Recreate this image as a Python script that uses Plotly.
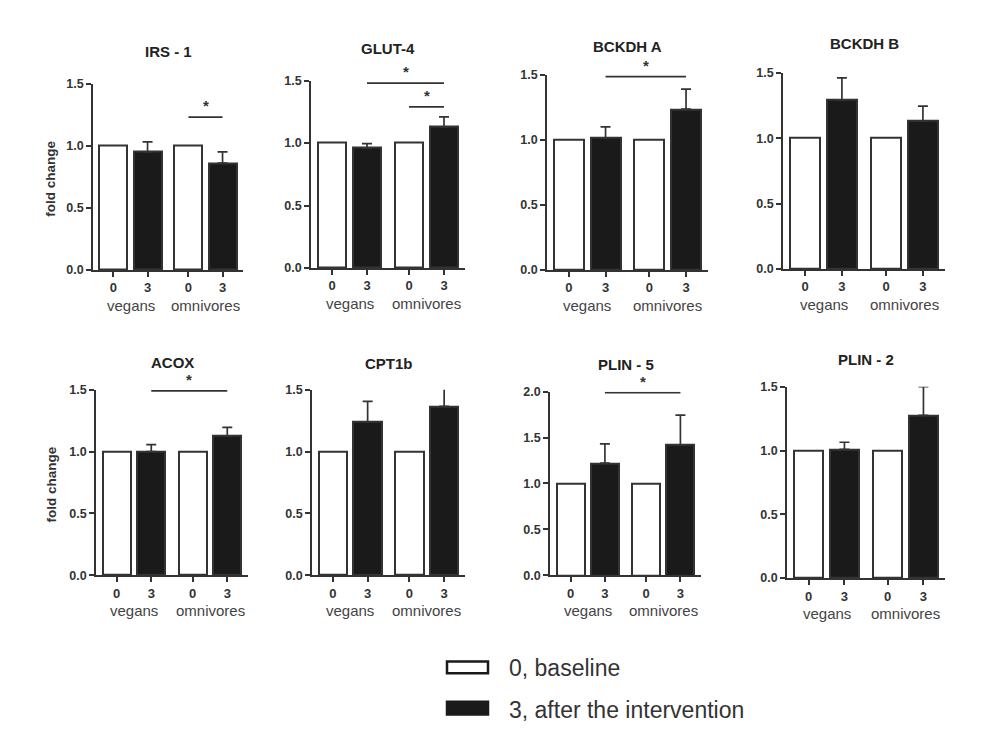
import plotly.graph_objects as go

W, H = 1002, 747

# ---------------- data ----------------
genes = ["IRS - 1", "GLUT-4", "BCKDH A", "BCKDH B", "ACOX", "CPT1b", "PLIN - 5", "PLIN - 2"]
bar_x = [0, 1, 2.2, 3.2]                 # vegans 0, vegans 3, omnivores 0, omnivores 3
tick_labels = ["0", "3", "0", "3"]
group_labels = ["vegans", "omnivores"]
group_x = [0.5, 2.7]

baseline = [1.0, 1.0, 1.0, 1.0, 1.0, 1.0, 1.0, 1.0]          # fold change at 0 (both groups)
vegans_3 = [0.95, 0.96, 1.015, 1.29, 1.00, 1.24, 1.22, 1.01]
vegans_3_sem = [0.08, 0.035, 0.085, 0.17, 0.055, 0.165, 0.21, 0.055]
omniv_3 = [0.86, 1.13, 1.235, 1.13, 1.125, 1.365, 1.42, 1.275]
omniv_3_sem = [0.09, 0.08, 0.155, 0.115, 0.07, 0.17, 0.325, 0.225]
y_max = [1.5, 1.5, 1.5, 1.5, 1.5, 1.5, 2.0, 1.5]

# significance brackets: (panel index, from bar, to bar, height)
sig_panel = [0, 1, 1, 2, 4, 6]
sig_from = [2, 1, 2, 1, 1, 1]
sig_to = [3, 3, 3, 3, 3, 3]
sig_y = [1.23, 1.48, 1.29, 1.486, 1.49, 1.99]

legend_labels = ["0, baseline", "3, after the intervention"]

# ---------------- layout geometry (pixels) ----------------
# left, right, top, bottom of each plot area
boxes = [
    (93, 243, 78, 268), (311, 465, 75, 266), (547, 708, 69, 268), (783, 945, 67, 267),
    (96, 248, 390, 579), (312, 465, 390, 579), (550, 701, 392, 579), (787, 945, 387, 582),
]
title_y = [45, 42, 40, 37, 362, 363, 364, 359]

FONT = "Arial, Liberation Sans, Helvetica, sans-serif"
TXT = "#333333"
LINE = "#333333"
BLACK = "#1a1a1a"

fig = go.Figure()
annotations = []
shapes = []

for i, g in enumerate(genes):
    l, r, t, b = boxes[i]
    ax = "" if i == 0 else str(i + 1)
    xa = "x" + ax
    ya = "y" + ax
    fig.add_trace(go.Bar(
        x=[bar_x[0], bar_x[2]], y=[baseline[i], baseline[i]], width=0.82,
        marker=dict(color="white", line=dict(color=LINE, width=2)),
        xaxis=xa, yaxis=ya, showlegend=False, hoverinfo="y",
    ))
    fig.add_trace(go.Bar(
        x=[bar_x[1], bar_x[3]], y=[vegans_3[i], omniv_3[i]], width=0.82,
        marker=dict(color=BLACK, line=dict(color=LINE, width=2)),
        error_y=dict(type="data", symmetric=False,
                     array=[vegans_3_sem[i], omniv_3_sem[i]], arrayminus=[0, 0],
                     color=LINE, thickness=1.7, width=5),
        xaxis=xa, yaxis=ya, showlegend=False, hoverinfo="y",
    ))
    xkey = "xaxis" + ax
    ykey = "yaxis" + ax
    fig.layout[xkey] = dict(
        domain=[l / W, r / W], range=[-0.6, 3.8], anchor=ya,
        showline=True, linecolor=LINE, linewidth=1.7, zeroline=False, showgrid=False,
        ticks="outside", ticklen=5, tickwidth=1.7, tickcolor=LINE,
        tickvals=bar_x, ticktext=tick_labels,
        tickfont=dict(family=FONT, size=13, color=TXT, weight="bold"),
        fixedrange=True,
    )
    fig.layout[ykey] = dict(
        domain=[1 - b / H, 1 - t / H], range=[0, y_max[i]], anchor=xa,
        showline=True, linecolor=LINE, linewidth=1.7, zeroline=False, showgrid=False,
        ticks="outside", ticklen=5, tickwidth=1.7, tickcolor=LINE,
        dtick=0.5, tick0=0, tickformat=".1f",
        tickfont=dict(family=FONT, size=12.5, color=TXT, weight="bold"),
        fixedrange=True,
    )
    # panel title
    annotations.append(dict(
        text="<b>%s</b>" % g, x=(l + r) / 2 / W, y=1 - title_y[i] / H,
        xref="paper", yref="paper", showarrow=False, xanchor="center", yanchor="middle",
        font=dict(family=FONT, size=15, color="#222222"),
    ))
    # group labels
    for gx, gl in zip(group_x, group_labels):
        annotations.append(dict(
            text=gl, x=gx, y=1 - (b + 36) / H, xref=xa, yref="paper",
            showarrow=False, xanchor="center", yanchor="middle",
            font=dict(family=FONT, size=15, color="#444444"),
        ))
    # y-axis title on first column
    if i in (0, 4):
        annotations.append(dict(
            text="<b>fold change</b>", x=51 / W, y=1 - ((t + b) / 2 + 2) / H,
            xref="paper", yref="paper", showarrow=False, textangle=-90,
            xanchor="center", yanchor="middle",
            font=dict(family=FONT, size=13.5, color=TXT),
        ))

# significance brackets
for p, a, c, y in zip(sig_panel, sig_from, sig_to, sig_y):
    ax = "" if p == 0 else str(p + 1)
    shapes.append(dict(type="line", xref="x" + ax, yref="y" + ax,
                       x0=bar_x[a], x1=bar_x[c], y0=y, y1=y,
                       line=dict(color=LINE, width=1.7)))
    annotations.append(dict(text="<b>*</b>", x=(bar_x[a] + bar_x[c]) / 2, y=y,
                            xref="x" + ax, yref="y" + ax, showarrow=False,
                            xanchor="center", yanchor="bottom", yshift=1,
                            font=dict(family=FONT, size=15, color=TXT)))

# legend (drawn)
leg_boxes = [(447, 488, 667, 679, "white"), (447, 488, 708, 721, BLACK)]
leg_text_y = [674, 716]
for (x0, x1, y0, y1, col), lab, ty in zip(leg_boxes, legend_labels, leg_text_y):
    shapes.append(dict(type="rect", xref="paper", yref="paper",
                       x0=x0 / W, x1=x1 / W, y0=1 - y1 / H, y1=1 - y0 / H,
                       fillcolor=col, line=dict(color="#1a1a1a", width=2.5)))
    annotations.append(dict(text=lab, x=507 / W, y=1 - ty / H, xref="paper", yref="paper",
                            showarrow=False, xanchor="left", yanchor="middle",
                            font=dict(family=FONT, size=23, color=TXT)))

fig.update_layout(
    width=W, height=H, margin=dict(l=0, r=0, t=0, b=0),
    paper_bgcolor="white", plot_bgcolor="white",
    annotations=annotations, shapes=shapes, showlegend=False,
    bargap=0, font=dict(family=FONT, color=TXT),
)

fig.write_html("out.html", config={"displayModeBar": False},
               post_script="document.body.style.margin='0';")
